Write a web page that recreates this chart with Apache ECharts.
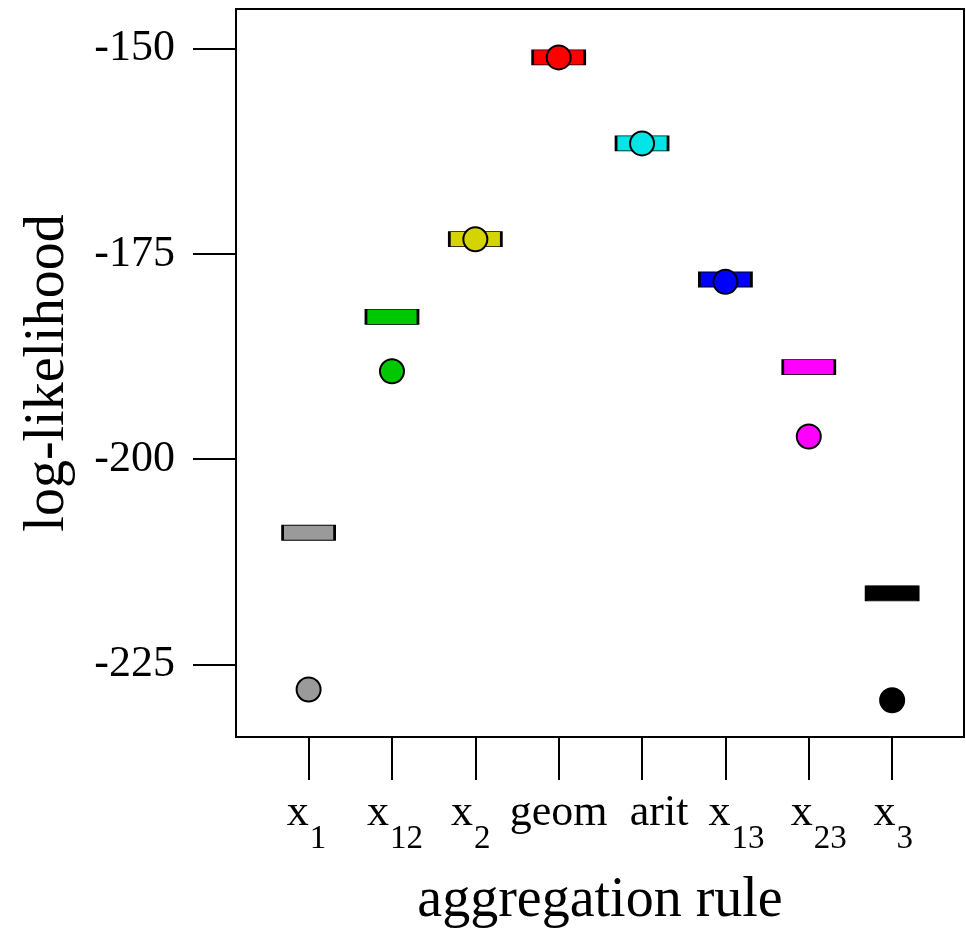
<!DOCTYPE html>
<html>
<head>
<meta charset="utf-8">
<script src="https://cdn.jsdelivr.net/npm/echarts@6/dist/echarts.min.js"></script>
<style>
  html, body { margin: 0; padding: 0; background: #ffffff; }
  #chart { width: 966px; height: 935px; }
</style>
</head>
<body>
<div id="chart"></div>
<script>
// ---- data ----
const categories = ['x1', 'x12', 'x2', 'geom', 'arit', 'x13', 'x23', 'x3'];
const tickBase = ['x', 'x', 'x', 'geom', 'arit', 'x', 'x', 'x'];
const tickSub = ['1', '12', '2', '', '', '13', '23', '3'];
const barValues = [-208.97, -182.67, -173.2, -151.05, -161.53, -178.11, -188.8, -216.35];
const pointValues = [-228.08, -189.29, -173.2, -151.05, -161.53, -178.4, -197.25, -229.38];
const colors = ['#9a9a9a', '#00c800', '#d4d400', '#ff0000', '#00e5e5', '#0000ff', '#ff00ff', '#000000'];
const yTicks = [-225, -200, -175, -150];
const xPositions = [1, 2, 3, 4, 5, 6, 7, 8];

// ---- styling / layout (not data) ----
const FONT = '"Liberation Serif", "DejaVu Serif", serif';
// horizontal nudges of tick labels, as in the reference (px of padding)
const labelNudge = [-4, 6, -9, 0, 34, 22, 20, 2];

const rich = {};
tickBase.forEach(function (b, i) {
  const n = labelNudge[i];
  const hasSub = tickSub[i] !== '';
  rich['m' + i] = {
    fontFamily: FONT, fontSize: 44, lineHeight: 86, color: '#000',
    padding: [0, (!hasSub && n < 0) ? -n : 0, 0, n > 0 ? n : 0]
  };
  rich['s' + i] = {
    fontFamily: FONT, fontSize: 33, lineHeight: 33, color: '#000',
    padding: [53, n < 0 ? -n : 0, 0, 1]
  };
});

function labelFor(v) {
  const i = Math.round(v) - 1;
  let s = '{m' + i + '|' + tickBase[i] + '}';
  if (tickSub[i] !== '') s += '{s' + i + '|' + tickSub[i] + '}';
  return s;
}

const chart = echarts.init(document.getElementById('chart'), null, { renderer: 'canvas' });

const option = {
  animation: false,
  backgroundColor: '#ffffff',
  grid: {
    left: 236, right: 2, top: 9, bottom: 198,
    show: true, borderColor: '#000', borderWidth: 2, backgroundColor: 'transparent'
  },
  xAxis: {
    type: 'value',
    min: 0.129,
    max: 8.862,
    name: 'aggregation rule',
    nameLocation: 'middle',
    nameGap: 136,
    nameTextStyle: { fontFamily: FONT, fontSize: 56, color: '#000' },
    axisLine: { show: true, onZero: false, lineStyle: { color: '#000', width: 2 } },
    axisTick: { show: true, length: 43, customValues: xPositions, lineStyle: { color: '#000', width: 2 } },
    splitLine: { show: false },
    axisLabel: {
      show: true,
      customValues: xPositions,
      margin: 33,
      formatter: labelFor,
      fontFamily: FONT, fontSize: 44, color: '#000', lineHeight: 86,
      rich: rich
    }
  },
  yAxis: {
    type: 'value',
    min: -233.86,
    max: -145.15,
    name: 'log-likelihood',
    nameLocation: 'middle',
    nameGap: 160,
    nameTextStyle: { fontFamily: FONT, fontSize: 56, color: '#000' },
    axisLine: { show: true, onZero: false, lineStyle: { color: '#000', width: 2 } },
    axisTick: { show: true, length: 43, customValues: yTicks, lineStyle: { color: '#000', width: 2 } },
    splitLine: { show: false },
    axisLabel: {
      show: true,
      customValues: yTicks,
      margin: 61,
      fontFamily: FONT, fontSize: 44, color: '#000'
    }
  },
  series: [
    {
      name: 'bar',
      type: 'scatter',
      symbol: 'rect',
      symbolSize: [52, 15],
      z: 2,
      data: barValues.map((v, i) => ({
        name: categories[i],
        value: [xPositions[i], v],
        itemStyle: { color: colors[i], borderColor: '#000', borderWidth: 1.5, opacity: 1 }
      }))
    },
    {
      name: 'point',
      type: 'scatter',
      symbol: 'circle',
      symbolSize: 24,
      z: 3,
      data: pointValues.map((v, i) => ({
        name: categories[i],
        value: [xPositions[i], v],
        itemStyle: { color: colors[i], borderColor: '#000', borderWidth: 2, opacity: 1 }
      }))
    }
  ]
};

chart.setOption(option);
</script>
</body>
</html>
